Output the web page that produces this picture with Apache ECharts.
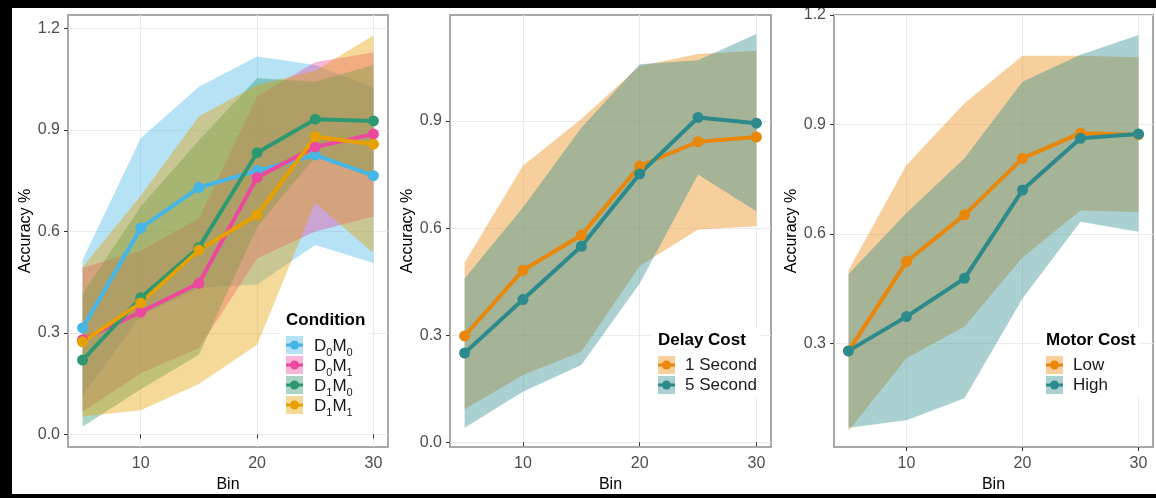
<!DOCTYPE html>
<html>
<head>
<meta charset="utf-8">
<script src="https://cdn.jsdelivr.net/npm/echarts@6/dist/echarts.min.js"></script>
<style>
html,body{margin:0;padding:0;background:#fff;}
#c{width:1156px;height:498px;}
</style>
</head>
<body>
<div id="c"></div>
<script>
// ---------------- data ----------------
const bins = [5, 10, 15, 20, 25, 30];
const xTicks = [10, 20, 30];

// Panel 1: Condition
const d0m0Mean = [0.315, 0.61, 0.73, 0.78, 0.826, 0.765];
const d0m0Low  = [0.115, 0.35, 0.433, 0.443, 0.56, 0.507];
const d0m0High = [0.516, 0.876, 1.028, 1.117, 1.092, 1.025];
const d0m1Mean = [0.28, 0.362, 0.447, 0.76, 0.85, 0.888];
const d0m1Low  = [0.067, 0.181, 0.255, 0.52, 0.60, 0.644];
const d0m1High = [0.493, 0.543, 0.639, 1.0, 1.10, 1.13];
const d1m0Mean = [0.22, 0.404, 0.553, 0.833, 0.932, 0.927];
const d1m0Low  = [0.023, 0.134, 0.236, 0.613, 0.82, 0.762];
const d1m0High = [0.417, 0.674, 0.87, 1.053, 1.043, 1.092];
const d1m1Mean = [0.274, 0.389, 0.545, 0.649, 0.88, 0.858];
const d1m1Low  = [0.053, 0.072, 0.149, 0.265, 0.685, 0.536];
const d1m1High = [0.495, 0.706, 0.941, 1.033, 1.075, 1.18];
const p1Ticks = [0.0, 0.3, 0.6, 0.9, 1.2];

// Panel 2: Delay Cost
const delay1Mean = [0.298, 0.482, 0.58, 0.774, 0.842, 0.855];
const delay1Low  = [0.093, 0.189, 0.254, 0.494, 0.596, 0.605];
const delay1High = [0.503, 0.775, 0.906, 1.054, 1.088, 1.097];
const delay5Mean = [0.25, 0.40, 0.549, 0.752, 0.91, 0.894];
const delay5Low  = [0.041, 0.142, 0.217, 0.445, 0.75, 0.647];
const delay5High = [0.459, 0.658, 0.881, 1.059, 1.07, 1.144];
const p2Ticks = [0.0, 0.3, 0.6, 0.9];

// Panel 3: Motor Cost
const motorLowMean  = [0.279, 0.524, 0.652, 0.807, 0.876, 0.872];
const motorLowLow   = [0.06, 0.259, 0.346, 0.535, 0.664, 0.66];
const motorLowHigh  = [0.50, 0.789, 0.958, 1.088, 1.088, 1.084];
const motorHighMean = [0.279, 0.373, 0.478, 0.72, 0.862, 0.874];
const motorHighLow  = [0.068, 0.089, 0.149, 0.423, 0.633, 0.606];
const motorHighHigh = [0.49, 0.657, 0.807, 1.017, 1.091, 1.145];
const p3Ticks = [0.3, 0.6, 0.9, 1.2];

// ---------------- styles ----------------
const FONT = '"Liberation Sans", Arial, Helvetica, sans-serif';
const C_BLUE = '#45B6E6', C_PINK = '#EC48A0', C_GREEN = '#2E9970', C_GOLD = '#E6A000';
const C_ORANGE = '#E8870A', C_TEAL = '#2D8A8C';
const BAND_ALPHA = 0.4;

function rgba(hex, a) {
  const n = parseInt(hex.slice(1), 16);
  return 'rgba(' + ((n >> 16) & 255) + ',' + ((n >> 8) & 255) + ',' + (n & 255) + ',' + a + ')';
}

function bandSeries(name, color, lo, hi, g) {
  return {
    type: 'custom', name: name + ' band', xAxisIndex: g, yAxisIndex: g,
    silent: true, z: 1, animation: false,
    data: bins.map((b, i) => [b, lo[i], hi[i]]),
    encode: { x: 0, y: [1, 2] },
    renderItem: function (params, api) {
      if (params.dataIndex !== 0) return null;
      const pts = [];
      for (let i = 0; i < bins.length; i++) pts.push(api.coord([bins[i], hi[i]]));
      for (let i = bins.length - 1; i >= 0; i--) pts.push(api.coord([bins[i], lo[i]]));
      return { type: 'polygon', shape: { points: pts }, style: { fill: rgba(color, BAND_ALPHA), stroke: null } };
    }
  };
}

function lineSeries(name, color, mean, g) {
  return {
    type: 'line', name: name, xAxisIndex: g, yAxisIndex: g, z: 3, animation: false,
    data: bins.map((b, i) => [b, mean[i]]),
    symbol: 'circle', symbolSize: 11, showSymbol: true,
    lineStyle: { width: 4, color: color },
    itemStyle: { color: color, borderWidth: 0 }
  };
}

const grids = [
  { left: 68, top: 15, width: 320, height: 432 },
  { left: 450, top: 15, width: 321, height: 432 },
  { left: 834, top: 15, width: 319, height: 432 }
].map(g => Object.assign(g, { show: true, borderColor: '#A8A8A8', borderWidth: 2, backgroundColor: '#fff', containLabel: false }));

function xAxis(g) {
  return {
    type: 'value', gridIndex: g, min: 3.75, max: 31.25,
    axisLine: { show: false },
    axisTick: { show: true, length: 4, customValues: xTicks, lineStyle: { color: '#333', width: 1 } },
    axisLabel: { customValues: xTicks, color: '#4D4D4D', fontSize: 16, fontFamily: FONT, margin: 9 },
    splitLine: { show: true, lineStyle: { color: '#EBEBEB', width: 1 } },
    name: 'Bin', nameLocation: 'middle', nameGap: 28,
    nameTextStyle: { color: '#000', fontSize: 16, fontFamily: FONT }
  };
}
function yAxis(g, min, max, ticks) {
  return {
    type: 'value', gridIndex: g, min: min, max: max,
    axisLine: { show: false },
    axisTick: { show: true, length: 4, customValues: ticks, lineStyle: { color: '#333', width: 1 } },
    axisLabel: { customValues: ticks, color: '#4D4D4D', fontSize: 16, fontFamily: FONT, margin: 8,
                 formatter: v => Number(v).toFixed(1) },
    splitLine: { show: true, lineStyle: { color: '#EBEBEB', width: 1 } },
    name: 'Accuracy %', nameLocation: 'middle', nameGap: 33, nameRotate: 90,
    nameTextStyle: { color: '#000', fontSize: 16, fontFamily: FONT }
  };
}

// ---------------- legends (graphic) ----------------
const subRich = {
  n: { fontSize: 17, fontFamily: FONT, fill: '#1a1a1a', verticalAlign: 'bottom', lineHeight: 20 },
  s: { fontSize: 11, fontFamily: FONT, fill: '#1a1a1a', verticalAlign: 'bottom', lineHeight: 20, padding: [0, 0, -3, 0] }
};
function legend(x, titleY, title, items, textX, boxW) {
  const els = [];
  const n = items.length;
  els.push({ type: 'rect', z: 50, shape: { x: x - 5, y: titleY - 12, width: boxW, height: 25 + (n - 1) * 20 + 10 + 14 }, style: { fill: '#fff' } });
  els.push({ type: 'text', z: 51, x: x, y: titleY, style: { text: title, font: 'bold 17px ' + FONT, fill: '#000', verticalAlign: 'middle' } });
  items.forEach((it, i) => {
    const yc = titleY + 25 + i * 20;
    els.push({ type: 'rect', z: 51, shape: { x: x, y: yc - 9, width: 17, height: 18 }, style: { fill: rgba(it.color, BAND_ALPHA) } });
    els.push({ type: 'line', z: 52, shape: { x1: x, y1: yc, x2: x + 17, y2: yc }, style: { stroke: it.color, lineWidth: 3 } });
    els.push({ type: 'circle', z: 53, shape: { cx: x + 8.5, cy: yc, r: 4.5 }, style: { fill: it.color } });
    els.push({ type: 'text', z: 51, x: textX, y: yc, style: Object.assign({ text: it.text, verticalAlign: 'middle', fill: '#1a1a1a', font: '17px ' + FONT }, it.rich ? { rich: subRich } : {}) });
  });
  return els;
}

const conditionLegend = [
  { text: '{n|D}{s|0}{n|M}{s|0}', color: C_BLUE, rich: true },
  { text: '{n|D}{s|0}{n|M}{s|1}', color: C_PINK, rich: true },
  { text: '{n|D}{s|1}{n|M}{s|0}', color: C_GREEN, rich: true },
  { text: '{n|D}{s|1}{n|M}{s|1}', color: C_GOLD, rich: true }
];

const graphics = [].concat(
  legend(286, 320, 'Condition', conditionLegend, 314, 88),
  legend(658, 340, 'Delay Cost', [{ text: '1 Second', color: C_ORANGE }, { text: '5 Second', color: C_TEAL }], 685, 106),
  legend(1046, 340, 'Motor Cost', [{ text: 'Low', color: C_ORANGE }, { text: 'High', color: C_TEAL }], 1073, 98),
  [
    { type: 'rect', shape: { x: 0, y: 0, width: 1156, height: 8 }, style: { fill: '#000' }, z: 100 },
    { type: 'rect', shape: { x: 0, y: 0, width: 12, height: 498 }, style: { fill: '#000' }, z: 100 },
    { type: 'rect', shape: { x: 0, y: 494, width: 1156, height: 4 }, style: { fill: '#000' }, z: 100 }
  ]
);

const option = {
  backgroundColor: '#fff',
  animation: false,
  grid: grids,
  xAxis: [xAxis(0), xAxis(1), xAxis(2)],
  yAxis: [yAxis(0, -0.037, 1.24, p1Ticks), yAxis(1, -0.013, 1.197, p2Ticks), yAxis(2, 0.0155, 1.2, p3Ticks)],
  series: [
    bandSeries('D0M0', C_BLUE, d0m0Low, d0m0High, 0),
    bandSeries('D0M1', C_PINK, d0m1Low, d0m1High, 0),
    bandSeries('D1M0', C_GREEN, d1m0Low, d1m0High, 0),
    bandSeries('D1M1', C_GOLD, d1m1Low, d1m1High, 0),
    lineSeries('D0M0', C_BLUE, d0m0Mean, 0),
    lineSeries('D0M1', C_PINK, d0m1Mean, 0),
    lineSeries('D1M0', C_GREEN, d1m0Mean, 0),
    lineSeries('D1M1', C_GOLD, d1m1Mean, 0),
    bandSeries('1 Second', C_ORANGE, delay1Low, delay1High, 1),
    bandSeries('5 Second', C_TEAL, delay5Low, delay5High, 1),
    lineSeries('1 Second', C_ORANGE, delay1Mean, 1),
    lineSeries('5 Second', C_TEAL, delay5Mean, 1),
    bandSeries('Low', C_ORANGE, motorLowLow, motorLowHigh, 2),
    bandSeries('High', C_TEAL, motorHighLow, motorHighHigh, 2),
    lineSeries('Low', C_ORANGE, motorLowMean, 2),
    lineSeries('High', C_TEAL, motorHighMean, 2)
  ],
  graphic: graphics
};

const chart = echarts.init(document.getElementById('c'), null, { renderer: 'canvas' });
chart.setOption(option);
</script>
</body>
</html>
